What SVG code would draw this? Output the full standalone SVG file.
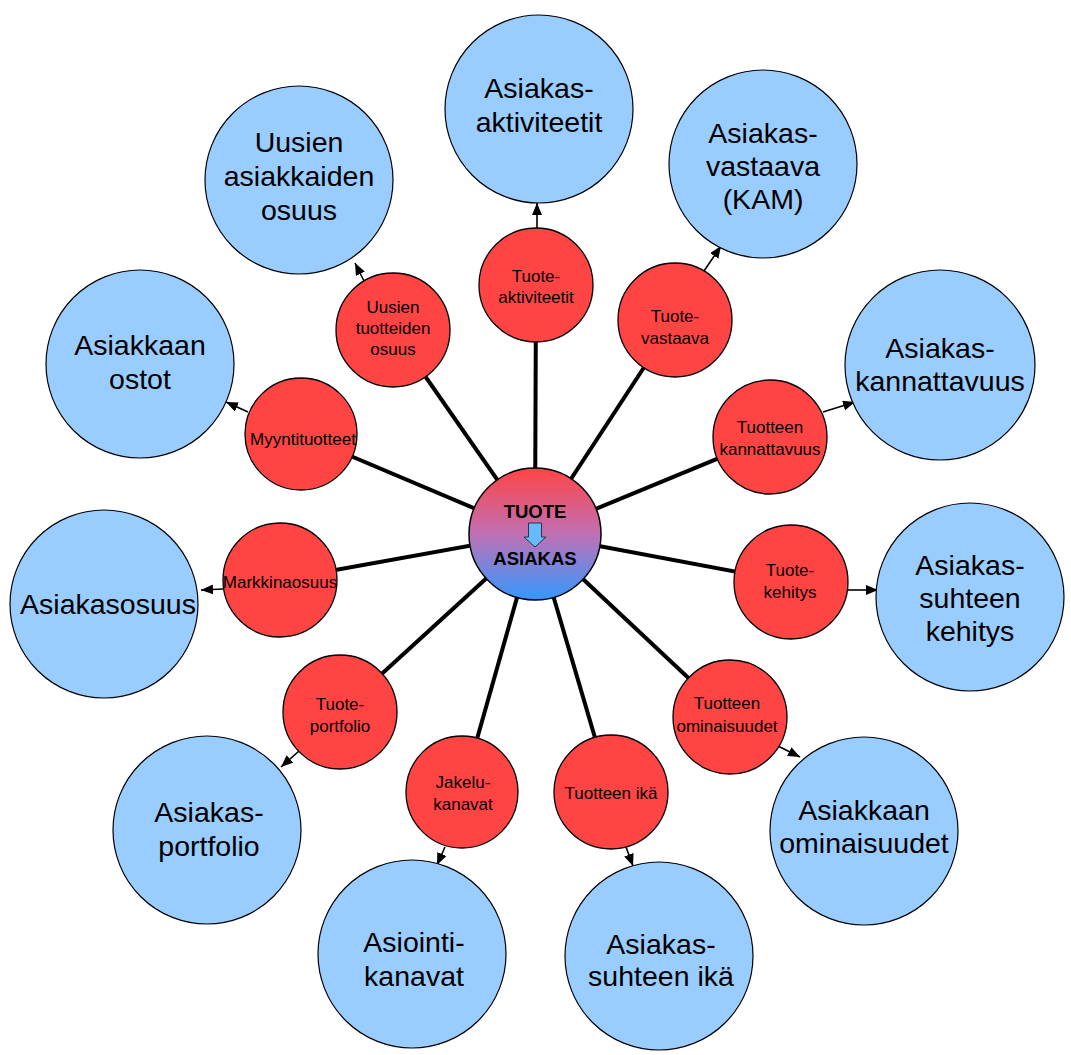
<svg xmlns="http://www.w3.org/2000/svg" width="1071" height="1055" viewBox="0 0 1071 1055">
<defs>
<linearGradient id="cg" x1="0" y1="0" x2="0" y2="1">
<stop offset="0" stop-color="#ff4444"/>
<stop offset="0.5" stop-color="#c070b4"/>
<stop offset="1" stop-color="#3399ff"/>
</linearGradient>
<marker id="ah" viewBox="0 0 12 10" refX="12" refY="5" markerWidth="12" markerHeight="10" markerUnits="userSpaceOnUse" orient="auto">
<path d="M0,0 L12,5 L0,10 z" fill="#000"/>
</marker>
</defs>
<style>
.spoke{stroke:#000;stroke-width:4;fill:none}
.arr{stroke:#000;stroke-width:1.6;fill:none;marker-end:url(#ah)}
.red{fill:#ff4444;stroke:#000;stroke-width:1.3}
.blue{fill:#99ccff;stroke:#000;stroke-width:1.2}
.rt{font-family:"Liberation Sans",Arial,sans-serif;font-size:17px;text-anchor:middle;fill:#000}
.bt{font-family:"Liberation Sans",Arial,sans-serif;font-size:28.5px;text-anchor:middle;fill:#000}
.ct{font-family:"Liberation Sans",Arial,sans-serif;font-size:18.5px;font-weight:bold;text-anchor:middle;fill:#000}
</style>
<rect width="1071" height="1055" fill="#fff"/>
<g id="connectors">
<line class="spoke" x1="535" y1="534" x2="536" y2="285"/>
<line class="spoke" x1="535" y1="534" x2="393" y2="330"/>
<line class="spoke" x1="535" y1="534" x2="675" y2="320"/>
<line class="spoke" x1="535" y1="534" x2="301" y2="435"/>
<line class="spoke" x1="535" y1="534" x2="770" y2="437"/>
<line class="spoke" x1="535" y1="534" x2="280" y2="580"/>
<line class="spoke" x1="535" y1="534" x2="791" y2="582"/>
<line class="spoke" x1="535" y1="534" x2="340" y2="712"/>
<line class="spoke" x1="535" y1="534" x2="462" y2="792"/>
<line class="spoke" x1="535" y1="534" x2="611" y2="792"/>
<line class="spoke" x1="535" y1="534" x2="730" y2="717"/>
<line class="arr" x1="537" y1="228" x2="537" y2="203"/>
<line class="arr" x1="364" y1="281" x2="355" y2="263"/>
<line class="arr" x1="704" y1="271" x2="721" y2="246"/>
<line class="arr" x1="248" y1="412" x2="226" y2="402"/>
<line class="arr" x1="823" y1="412" x2="855" y2="402"/>
<line class="arr" x1="223" y1="589" x2="201" y2="590"/>
<line class="arr" x1="848" y1="590" x2="878" y2="590"/>
<line class="arr" x1="299" y1="751" x2="281" y2="767"/>
<line class="arr" x1="445" y1="847" x2="437" y2="865"/>
<line class="arr" x1="626" y1="847" x2="633" y2="866"/>
<line class="arr" x1="778" y1="746" x2="800" y2="757"/>
</g>
<g id="n-asiakas-aktiviteetit"><circle class="blue" cx="539" cy="109" r="94"/><text class="bt" x="539"><tspan x="539" y="98">Asiakas-</tspan><tspan x="539" y="132">aktiviteetit</tspan></text></g>
<g id="n-uusien-asiakkaiden"><circle class="blue" cx="299" cy="180" r="94"/><text class="bt"><tspan x="299" y="152">Uusien</tspan><tspan x="299" y="186">asiakkaiden</tspan><tspan x="299" y="220">osuus</tspan></text></g>
<g id="n-kam"><circle class="blue" cx="763" cy="164" r="94"/><text class="bt"><tspan x="763" y="143">Asiakas-</tspan><tspan x="763" y="176">vastaava</tspan><tspan x="763" y="209">(KAM)</tspan></text></g>
<g id="n-asiakkaan-ostot"><circle class="blue" cx="140" cy="364" r="94"/><text class="bt"><tspan x="140" y="355">Asiakkaan</tspan><tspan x="140" y="389">ostot</tspan></text></g>
<g id="n-asiakas-kannattavuus"><circle class="blue" cx="940" cy="365" r="95"/><text class="bt"><tspan x="940" y="358">Asiakas-</tspan><tspan x="940" y="391">kannattavuus</tspan></text></g>
<g id="n-asiakasosuus"><circle class="blue" cx="104" cy="604" r="94"/><text class="bt" x="108" y="614">Asiakasosuus</text></g>
<g id="n-suhteen-kehitys"><circle class="blue" cx="970" cy="597" r="94"/><text class="bt"><tspan x="970" y="575">Asiakas-</tspan><tspan x="970" y="608">suhteen</tspan><tspan x="970" y="641">kehitys</tspan></text></g>
<g id="n-asiakas-portfolio"><circle class="blue" cx="207" cy="830" r="94"/><text class="bt"><tspan x="209" y="822">Asiakas-</tspan><tspan x="209" y="856">portfolio</tspan></text></g>
<g id="n-asiointikanavat"><circle class="blue" cx="412" cy="954" r="94"/><text class="bt"><tspan x="414" y="952">Asiointi-</tspan><tspan x="414" y="986">kanavat</tspan></text></g>
<g id="n-suhteen-ika"><circle class="blue" cx="659" cy="956" r="94"/><text class="bt"><tspan x="661" y="954">Asiakas-</tspan><tspan x="661" y="986">suhteen ikä</tspan></text></g>
<g id="n-asiakkaan-ominaisuudet"><circle class="blue" cx="864" cy="831" r="94"/><text class="bt"><tspan x="864" y="820">Asiakkaan</tspan><tspan x="864" y="853">ominaisuudet</tspan></text></g>
<g id="r-tuote-aktiviteetit"><circle class="red" cx="536" cy="285" r="57"/><text class="rt"><tspan x="536" y="282">Tuote-</tspan><tspan x="536" y="303">aktiviteetit</tspan></text></g>
<g id="r-uusien-tuotteiden"><circle class="red" cx="393" cy="330" r="57"/><text class="rt"><tspan x="393" y="313">Uusien</tspan><tspan x="393" y="334">tuotteiden</tspan><tspan x="393" y="355">osuus</tspan></text></g>
<g id="r-tuotevastaava"><circle class="red" cx="675" cy="320" r="57"/><text class="rt"><tspan x="675" y="322">Tuote-</tspan><tspan x="675" y="344">vastaava</tspan></text></g>
<g id="r-myyntituotteet"><circle class="red" cx="301" cy="434" r="56"/><text class="rt" x="303" y="445">Myyntituotteet</text></g>
<g id="r-tuotteen-kannattavuus"><circle class="red" cx="770" cy="437" r="57"/><text class="rt"><tspan x="770" y="433">Tuotteen</tspan><tspan x="770" y="455">kannattavuus</tspan></text></g>
<g id="r-markkinaosuus"><circle class="red" cx="280" cy="580" r="57"/><text class="rt" x="280" y="588">Markkinaosuus</text></g>
<g id="r-tuotekehitys"><circle class="red" cx="791" cy="582" r="57"/><text class="rt"><tspan x="790" y="576">Tuote-</tspan><tspan x="790" y="598">kehitys</tspan></text></g>
<g id="r-tuoteportfolio"><circle class="red" cx="340" cy="712" r="57"/><text class="rt"><tspan x="340" y="710">Tuote-</tspan><tspan x="340" y="732">portfolio</tspan></text></g>
<g id="r-jakelukanavat"><circle class="red" cx="462" cy="792" r="56"/><text class="rt"><tspan x="463" y="788">Jakelu-</tspan><tspan x="463" y="810">kanavat</tspan></text></g>
<g id="r-tuotteen-ika"><circle class="red" cx="611" cy="792" r="57"/><text class="rt" x="611" y="799">Tuotteen ikä</text></g>
<g id="r-tuotteen-ominaisuudet"><circle class="red" cx="730" cy="717" r="57"/><text class="rt"><tspan x="727" y="709">Tuotteen</tspan><tspan x="727" y="732">ominaisuudet</tspan></text></g>
<g id="center"><circle cx="535" cy="534" r="66" fill="url(#cg)" stroke="#000" stroke-width="1.5"/>
<text class="ct" x="535" y="518">TUOTE</text>
<path d="M528.5,523 H541.5 V537 H546 L535,547 L524,537 H528.5 Z" fill="#66bbff" stroke="#333" stroke-width="1"/>
<text class="ct" x="535" y="565">ASIAKAS</text></g>
</svg>
